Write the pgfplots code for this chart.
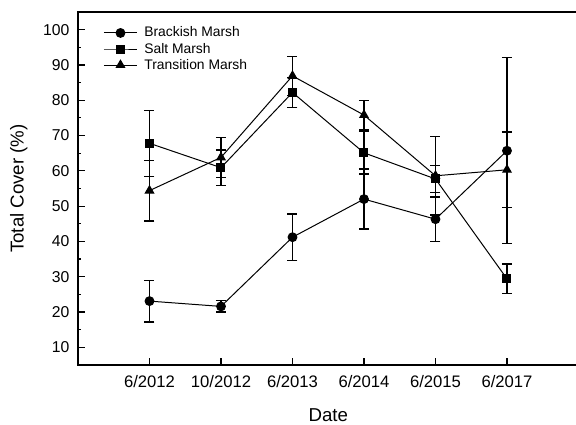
\documentclass[border=0pt]{standalone}
\usepackage{fontspec}
\setmainfont{Liberation Sans}
\usepackage{pgfplots}
\pgfplotsset{compat=1.18}
\begin{document}
\begin{tikzpicture}
\path[use as bounding box] (-58.5pt,-45pt) rectangle (373.5pt,273.75pt);
\begin{axis}[
  at={(0pt,0pt)}, anchor=south west,
  scale only axis, width=375.375pt, height=264.75pt,
  xmin=0, xmax=7, ymin=5, ymax=105,
  xtick={1,...,6}, xticklabels={6/2012,10/2012,6/2013,6/2014,6/2015,6/2017},
  ytick={10,20,...,100}, minor y tick num=1,
  xtick pos=left, ytick pos=left,
  tick align=inside,
  major tick length=5pt, minor tick length=2.5pt,
  tick style={line width=0.9pt, black},
  axis line style={line width=1pt},
  /pgf/number format/assume math mode=true,
  yticklabel style={font=\fontsize{11.8}{13}\selectfont},
  xticklabel style={font=\fontsize{12.5}{14}\selectfont},
  xticklabel shift=4.5pt, yticklabel shift=3pt,
  xlabel={Date}, ylabel={Total Cover (\%)},
  label style={font=\fontsize{14}{16}\selectfont},
  xlabel style={at={(axis description cs:0.5,-0.161)}, anchor=base},
  ylabel style={at={(axis description cs:-0.1185,0.5)}, anchor=center},
  legend style={draw=none, fill=none, at={(axis description cs:0.05,0.966)}, anchor=north west, font=\fontsize{10.4}{12}\selectfont, row sep=-1pt, column sep=3pt, inner sep=0pt},
  legend cell align=left,
  legend image code/.code={\draw[mark repeat=2,mark phase=2,#1] plot coordinates {(0cm,0cm) (0.44cm,0cm) (0.88cm,0cm)};},
  eb/.style={error bars/.cd, y dir=both, y explicit, error bar style={line width=0.9pt, black}, error mark options={rotate=90, mark size=3.75pt, line width=0.9pt, black}},
]
\addplot[black, line width=0.75pt, mark=*, mark size=3.3pt, mark options={solid, fill=black}, eb] coordinates {
(1,23.1) +- (0,5.9)
(2,21.6) +- (0,1.6)
(3,41.2) +- (0,6.6)
(4,52.0) +- (0,8.5)
(5,46.3) +- (0,6.3)
(6,65.7) +- (0,26.3)
};
\addlegendentry{Brackish Marsh}
\addplot[black, line width=0.75pt, mark=square*, mark size=3pt, mark options={solid, fill=black}, eb] coordinates {
(1,67.8) +- (0,9.3)
(2,60.9) +- (0,5.0)
(3,82.2) +- (0,4.2)
(4,65.1) +- (0,6.0)
(5,57.7) +- (0,3.9)
(6,29.4) +- (0,4.2)
};
\addlegendentry{Salt Marsh}
\addplot[black, line width=0.75pt, mark=triangle*, mark size=3.6pt, mark options={solid, fill=black}, eb] coordinates {
(1,54.4) +- (0,8.6)
(2,63.8) +- (0,5.6)
(3,86.9) +- (0,5.6)
(4,75.8) +- (0,4.2)
(5,58.6) +- (0,11.1)
(6,60.3) +- (0,10.7)
};
\addlegendentry{Transition Marsh}
\end{axis}
\end{tikzpicture}
\end{document}
